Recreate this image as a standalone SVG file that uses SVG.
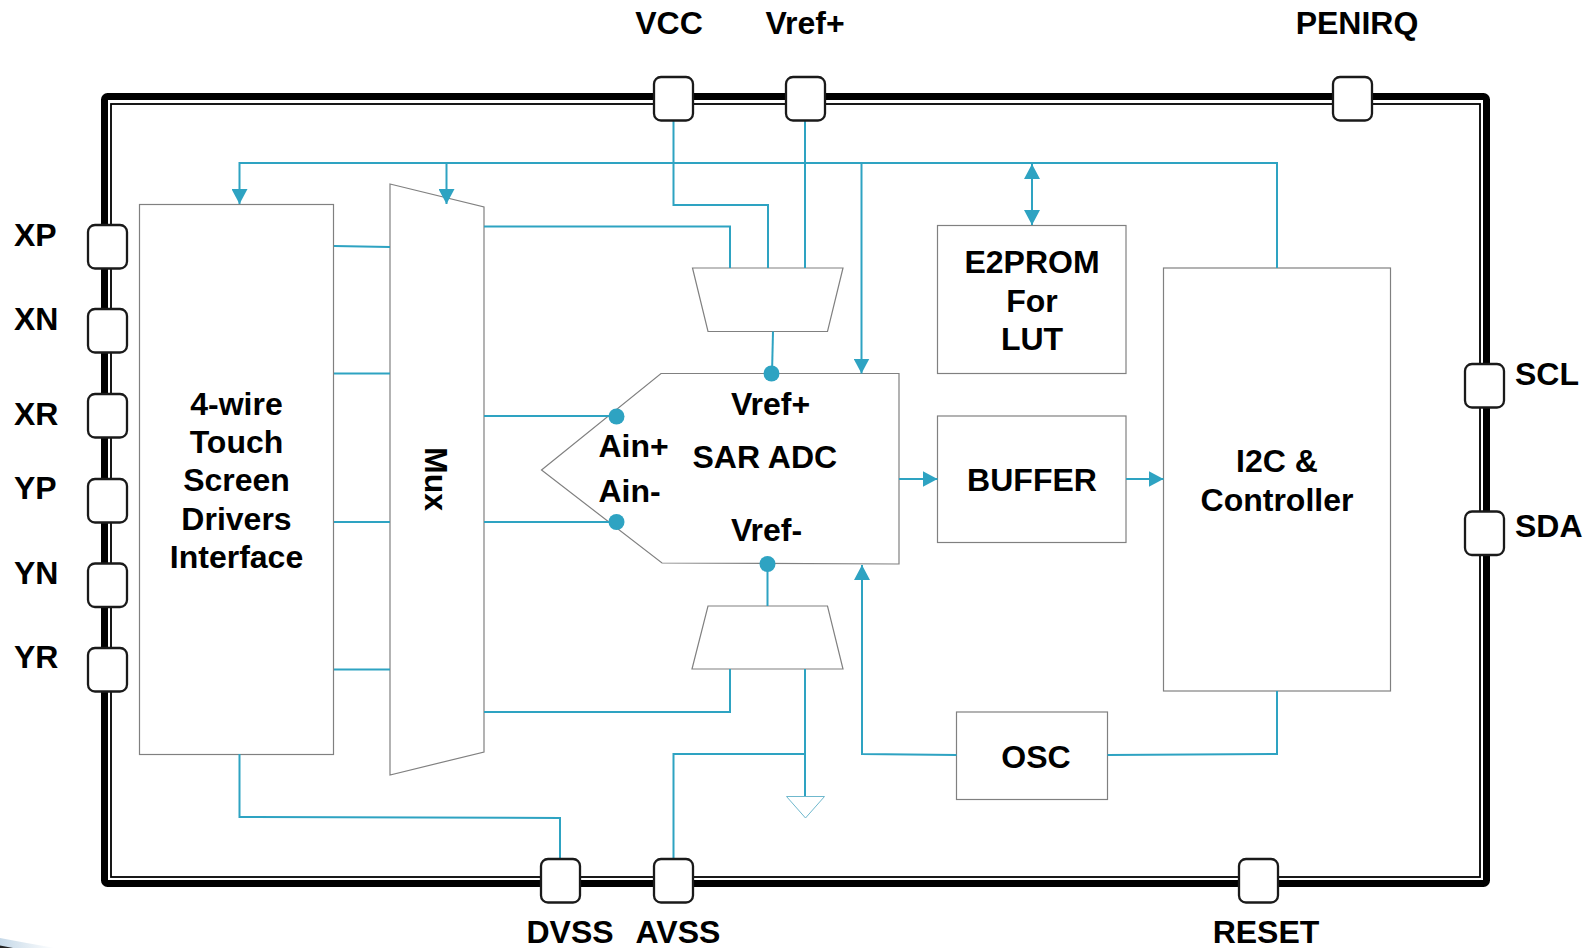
<svg xmlns="http://www.w3.org/2000/svg" width="1595" height="948" viewBox="0 0 1595 948">
<style>
text{font-family:"Liberation Sans",Arial,sans-serif;font-weight:700;font-size:32px;fill:#000}
.m{text-anchor:middle}
.b{fill:#fff;stroke:#808080;stroke-width:1.2}
.p{fill:#fff;stroke:#1a1a1a;stroke-width:2.300}
.c{fill:none;stroke:#2ea3c2;stroke-width:2}
.g{fill:#fff;stroke:#6fb8cd;stroke-width:1}
.d{fill:#2ea3c2}
</style>
<defs>
<marker id="a" markerUnits="userSpaceOnUse" markerWidth="16" markerHeight="16" refX="15" refY="8" orient="auto-start-reverse"><path d="M0 0L15 8L0 16Z" fill="#2ea3c2"/></marker>
<rect id="pv" class="p" width="39" height="43.500" rx="7"/>
<linearGradient id="sw" x1="0" y1="0" x2="1" y2="0"><stop offset="0" stop-color="#c6d9e8"/><stop offset="1" stop-color="#fff"/></linearGradient>
</defs>
<path d="M0 938Q26 943 55 948L0 948Z" fill="url(#sw)"/>
<path d="M0 945.500L13 948H0Z" fill="#222"/>
<g id="frame"><rect x="104.500" y="96.500" width="1382" height="787" rx="3" fill="#fff" stroke="#000" stroke-width="7"/><rect x="111" y="104" width="1369" height="773" fill="none" stroke="#000" stroke-width="1.800"/></g>
<g id="drivers"><rect class="b" x="139.500" y="204.500" width="194" height="550"/><text class="m" x="236.500" y="414.500">4-wire</text><text class="m" x="236.500" y="452.500">Touch</text><text class="m" x="236.500" y="490.500">Screen</text><text class="m" x="236.500" y="529.500">Drivers</text><text class="m" x="236.500" y="568">Interface</text></g>
<g id="mux"><path class="b" d="M390 184L484 207V752L390 775Z"/><text class="m" transform="translate(425 479) rotate(90)">Mux</text></g>
<g id="mux-top"><path class="b" d="M692.500 268H843L827.500 331.500H708Z"/></g>
<g id="mux-bottom"><path class="b" d="M708 606H827.500L843 669H692Z"/></g>
<g id="adc"><path class="b" d="M661 373.500H899V564L662 563L541.500 470Z"/><circle class="d" cx="771.500" cy="373.500" r="8"/><circle class="d" cx="616.500" cy="416.500" r="8"/><circle class="d" cx="616.500" cy="522" r="8"/><circle class="d" cx="767.500" cy="564" r="8"/><text x="731" y="415">Vref+</text><text x="598.500" y="457">Ain+</text><text x="692.500" y="468">SAR ADC</text><text x="598.500" y="502">Ain-</text><text x="731" y="541">Vref-</text></g>
<g id="eeprom"><rect class="b" x="937.500" y="225.500" width="188.500" height="148"/><text class="m" x="1032" y="273">E2PROM</text><text class="m" x="1032" y="311.500">For</text><text class="m" x="1032" y="350">LUT</text></g>
<g id="buffer"><rect class="b" x="937.500" y="416" width="188.500" height="126.500"/><text class="m" x="1032" y="491">BUFFER</text></g>
<g id="controller"><rect class="b" x="1163.500" y="268" width="227" height="423"/><text class="m" x="1277" y="472">I2C &amp;</text><text class="m" x="1277" y="511">Controller</text></g>
<g id="osc"><rect class="b" x="956.500" y="712" width="151" height="87.500"/><text class="m" x="1036" y="768">OSC</text></g>
<g id="connectors">
<path class="c" d="M1277 268V163H239.500V204" marker-end="url(#a)"/>
<path class="c" d="M446.500 163V204" marker-end="url(#a)"/>
<path class="c" d="M861.500 163V373.500" marker-end="url(#a)"/>
<path class="c" d="M1032 164V225" marker-start="url(#a)" marker-end="url(#a)"/>
<path class="c" d="M673.500 121V205H768V268"/>
<path class="c" d="M805 121V268"/>
<path class="c" d="M484 226.500H730V268"/>
<path class="c" d="M773 331.500L772 374"/>
<path class="c" d="M484 416H617M484 522H617"/>
<path class="c" d="M334 246L390 247M334 373.500H390M334 522H390M334 669.500H390"/>
<path class="c" d="M767.500 564V606"/>
<path class="c" d="M484 712H730V669"/>
<path class="c" d="M805 669V796.500"/>
<path class="c" d="M673.500 859V754H805"/>
<path class="c" d="M239.500 754V817L560 818V859"/>
<path class="c" d="M956.500 755L862 754V565" marker-end="url(#a)"/>
<path class="c" d="M1107.500 755L1277 754V691"/>
<path class="c" d="M899 479H937.500" marker-end="url(#a)"/>
<path class="c" d="M1126 479H1163.500" marker-end="url(#a)"/>
</g>
<g id="ground"><path class="g" d="M786.500 796.500H824.500L805.500 818Z"/></g>
<g id="pins">
<g id="pin-xp"><use href="#pv" x="88" y="225"/><text x="14" y="246">XP</text></g>
<g id="pin-xn"><use href="#pv" x="88" y="309"/><text x="14" y="330">XN</text></g>
<g id="pin-xr"><use href="#pv" x="88" y="394"/><text x="14" y="425">XR</text></g>
<g id="pin-yp"><use href="#pv" x="88" y="479"/><text x="14" y="498.500">YP</text></g>
<g id="pin-yn"><use href="#pv" x="88" y="563.500"/><text x="14" y="583.500">YN</text></g>
<g id="pin-yr"><use href="#pv" x="88" y="648"/><text x="14" y="667.500">YR</text></g>
<g id="pin-vcc"><use href="#pv" x="654" y="77"/><text class="m" x="669" y="33.500">VCC</text></g>
<g id="pin-vrefp"><use href="#pv" x="786" y="77"/><text class="m" x="805" y="33.500">Vref+</text></g>
<g id="pin-penirq"><use href="#pv" x="1333" y="77"/><text class="m" x="1357" y="33.500">PENIRQ</text></g>
<g id="pin-scl"><use href="#pv" x="1465" y="364"/><text x="1515" y="384.500">SCL</text></g>
<g id="pin-sda"><use href="#pv" x="1465" y="511.500"/><text x="1515" y="537">SDA</text></g>
<g id="pin-dvss"><use href="#pv" x="541" y="859"/><text class="m" x="570" y="942.500">DVSS</text></g>
<g id="pin-avss"><use href="#pv" x="654" y="859"/><text class="m" x="678" y="942.500">AVSS</text></g>
<g id="pin-reset"><use href="#pv" x="1239" y="859"/><text class="m" x="1266" y="942.500">RESET</text></g>
</g>
</svg>
